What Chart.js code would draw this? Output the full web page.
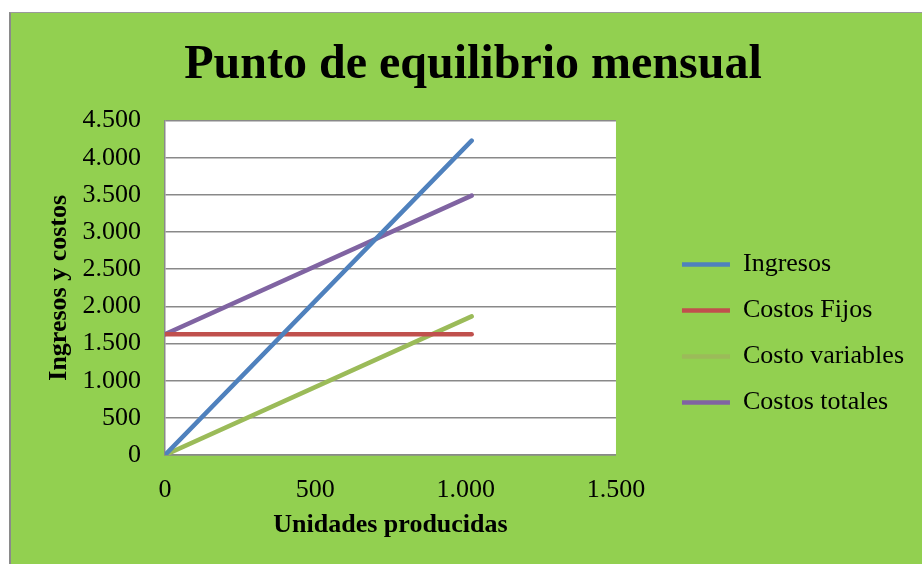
<!DOCTYPE html>
<html lang="es">
<head>
<meta charset="utf-8">
<title>Punto de equilibrio mensual</title>
<script src="https://cdn.jsdelivr.net/npm/chart.js@4/dist/chart.umd.min.js"></script>
<style>
  html, body { margin: 0; padding: 0; background: #ffffff; }
  #wrap { position: relative; width: 922px; height: 564px; overflow: hidden; }
  #marco {
    position: absolute; left: 9px; top: 12px; width: 940px; height: 600px;
    background: #92D050; border-left: 2px solid #8a8a8a; border-top: 1px solid #9a9a9a;
  }
  #grafico { position: absolute; left: 0; top: 0; }
</style>
</head>
<body>
<div id="wrap">
  <div id="marco"></div>
  <canvas id="grafico" width="922" height="564"></canvas>
</div>
<script>
// Datos
const unidades = [0, 1020];
const ingresos = [0, 4230];
const costosFijos = [1625, 1625];
const costoVariables = [0, 1865];
const costosTotales = [1625, 3490];

const xTicks = [0, 500, 1000, 1500];
const yTicks = [0, 500, 1000, 1500, 2000, 2500, 3000, 3500, 4000, 4500];

const series = [
  { label: "Ingresos", values: ingresos, color: "#4F81BD" },
  { label: "Costos Fijos", values: costosFijos, color: "#C0504D" },
  { label: "Costo variables", values: costoVariables, color: "#9BBB59" },
  { label: "Costos totales", values: costosTotales, color: "#8064A2" }
];

// 1500 -> "1.500"
function miles(v) {
  return String(v).replace(/\B(?=(\d{3})+(?!\d))/g, ".");
}

const fuente = "'Liberation Serif', 'Times New Roman', serif";

// fondo blanco solo en el area de trazado
const areaBlanca = {
  id: "areaBlanca",
  beforeDraw(chart) {
    const { ctx, chartArea: a } = chart;
    ctx.save();
    ctx.fillStyle = "#ffffff";
    ctx.fillRect(a.left, a.top, a.right - a.left, a.bottom - a.top);
    ctx.restore();
  }
};

const datasets = series.map(s => ({
  label: s.label,
  data: unidades.map((u, i) => ({ x: u, y: s.values[i] })),
  borderColor: s.color,
  backgroundColor: s.color,
  borderWidth: 4.5,
  borderCapStyle: "round",
  pointRadius: 0,
  pointHoverRadius: 0,
  fill: false,
  tension: 0
}));

new Chart(document.getElementById("grafico"), {
  type: "line",
  data: { datasets },
  plugins: [areaBlanca],
  options: {
    responsive: false,
    animation: false,
    layout: { padding: { left: 32, right: 8, top: 0, bottom: 0 } },
    plugins: {
      title: {
        display: true,
        text: "Punto de equilibrio mensual",
        color: "#000000",
        font: { family: fuente, size: 48, weight: "bold" },
        padding: { top: 37, bottom: 26 }
      },
      legend: {
        position: "right",
        maxWidth: 320,
        // titulo vacio: baja los elementos de la leyenda
        title: { display: true, text: " ", font: { family: fuente, size: 26 }, padding: { top: 72, bottom: 0 } },
        labels: {
          color: "#000000",
          font: { family: fuente, size: 26 },
          usePointStyle: true,
          pointStyle: "line",
          pointStyleWidth: 48,
          padding: 20
        }
      },
      tooltip: { enabled: false }
    },
    scales: {
      x: {
        type: "linear",
        min: 0,
        max: 1500,
        afterBuildTicks(scale) { scale.ticks = xTicks.map(v => ({ value: v })); },
        afterFit(scale) { scale.height = 109; },
        grid: { display: false },
        border: { display: true, color: "#898989", width: 1.5 },
        ticks: {
          color: "#000000",
          font: { family: fuente, size: 26 },
          padding: 12,
          maxRotation: 0,
          callback: v => miles(v)
        },
        title: {
          display: true,
          text: "Unidades producidas",
          color: "#000000",
          font: { family: fuente, size: 26, weight: "bold" },
          padding: { top: 0, bottom: 23 }
        }
      },
      y: {
        min: 0,
        max: 4500,
        afterBuildTicks(scale) { scale.ticks = yTicks.map(v => ({ value: v })); },
        afterFit(scale) { scale.width = 133; },
        grid: { color: "#898989", lineWidth: 1.5, drawTicks: false },
        border: { display: true, color: "#898989", width: 1.5 },
        ticks: {
          color: "#000000",
          font: { family: fuente, size: 26 },
          padding: 24,
          callback: v => miles(v)
        },
        title: {
          display: true,
          text: "Ingresos y costos",
          color: "#000000",
          font: { family: fuente, size: 26, weight: "bold" },
          padding: { top: 12, bottom: 0 }
        }
      },
      // eje vacio: solo deja espacio entre el grafico y la leyenda
      hueco: {
        position: "right",
        display: true,
        grid: { display: false },
        border: { display: false },
        ticks: { display: false },
        afterFit(scale) { scale.width = 46; }
      }
    }
  }
});
</script>
</body>
</html>
